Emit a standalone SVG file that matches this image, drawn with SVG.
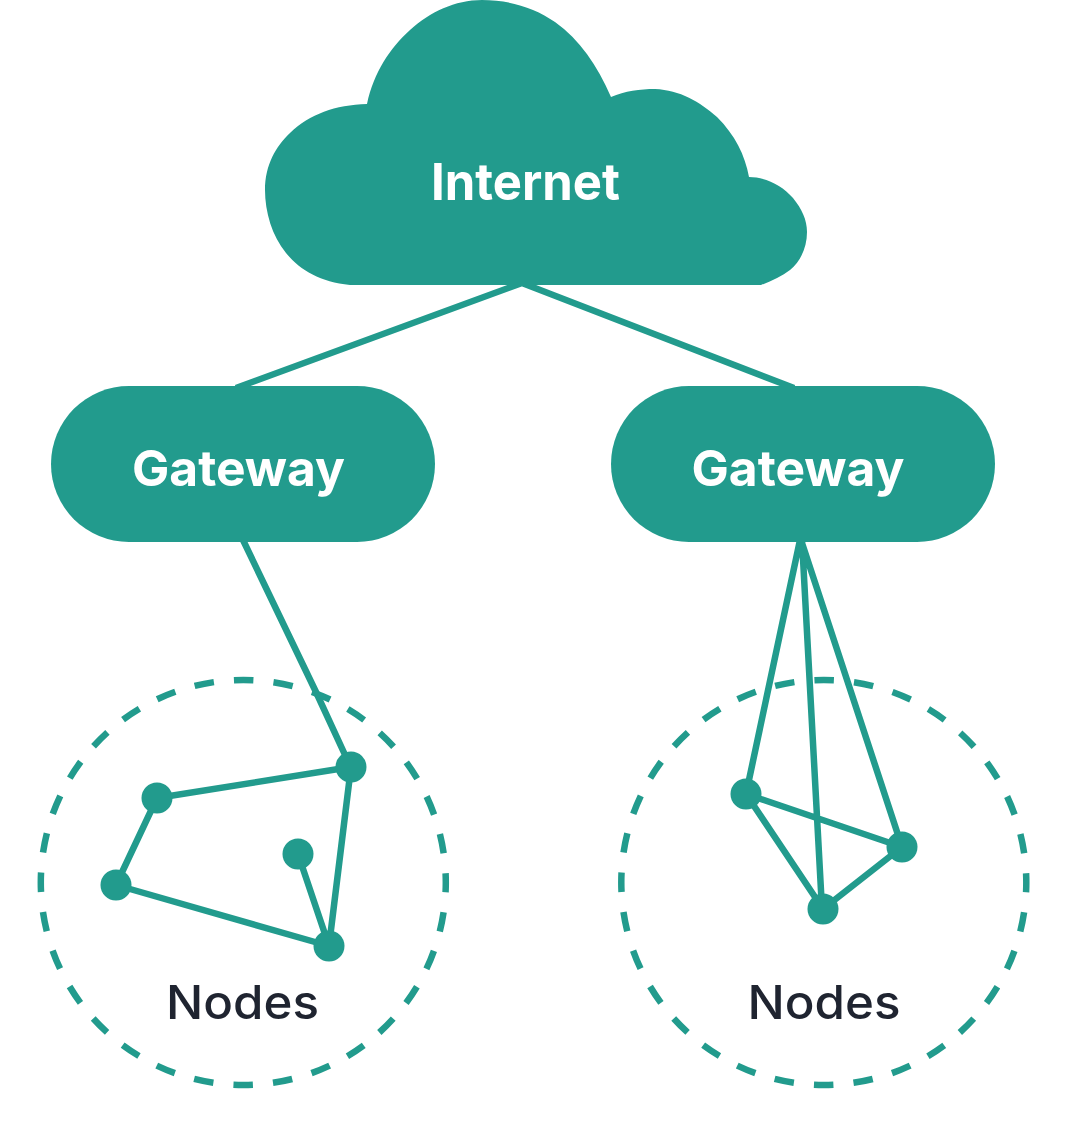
<svg xmlns="http://www.w3.org/2000/svg" width="1072" height="1124" viewBox="0 0 1072 1124">
<style>
.fill{fill:#229b8d}
.line{stroke:#229b8d;stroke-width:6.5;fill:none;stroke-linecap:butt;stroke-linejoin:round}
.dash{stroke:#229b8d;stroke-width:6.5;fill:none;stroke-dasharray:19.6 20.16;stroke-dashoffset:9.8}
.w{font-family:"Inter","Open Sans",sans-serif;font-weight:700;fill:#fff;text-anchor:middle}
.k{font-family:"Inter","Open Sans",sans-serif;font-weight:500;fill:#1f2430;text-anchor:middle;font-size:47px}
</style>
<rect width="1072" height="1124" fill="#fff"/>
<g id="connectors">
<path class="line" d="M522 283L236 388M522 283L794 388M243 540L316 692L346 757"/>
<path class="line" d="M351 767L157 798L116 885L329 946L351 767M329 946L298 854"/>
<path class="line" d="M800 540L746 794L902 847L823 909L746 794M802 540L822 909M801 540L902 847"/>
</g>
<g id="internet">
<path class="fill" d="M350 285C320 282 300 270 286 253C272 236 265 212 265 190C265 165 276 146 290 133C310 114 335 105 367 104C374 72 390 48 410 30C430 12 455 0 482 0C510 0 535 8 555 22C580 40 597 65 611 97C625 91 640 89 655 89C680 90 700 102 717 117C735 135 745 155 749 177C765 177 782 185 793 198C802 209 807 220 807 232C807 248 800 262 790 270C782 276 772 281 761 285Z"/>
<text class="w" x="525.5" y="200" font-size="51" textLength="189" lengthAdjust="spacingAndGlyphs">Internet</text>
</g>
<g id="gateway-left">
<rect class="fill" x="51" y="386" width="384" height="156" rx="78"/>
<text class="w" x="238.5" y="486" font-size="50" textLength="213" lengthAdjust="spacingAndGlyphs">Gateway</text>
</g>
<g id="gateway-right">
<rect class="fill" x="611" y="386" width="384" height="156" rx="78"/>
<text class="w" x="798" y="486" font-size="50" textLength="213" lengthAdjust="spacingAndGlyphs">Gateway</text>
</g>
<g id="nodes-left">
<circle class="dash" cx="243.3" cy="882.5" r="202.5"/>
<circle class="fill" cx="351" cy="767" r="15.5"/>
<circle class="fill" cx="157" cy="798" r="15.5"/>
<circle class="fill" cx="116" cy="885" r="15.5"/>
<circle class="fill" cx="298" cy="854" r="15.5"/>
<circle class="fill" cx="329" cy="946" r="15.5"/>
<text class="k" x="242.5" y="1019" textLength="153" lengthAdjust="spacingAndGlyphs">Nodes</text>
</g>
<g id="nodes-right">
<circle class="dash" cx="823.8" cy="882.5" r="202.5"/>
<circle class="fill" cx="746" cy="794" r="15.5"/>
<circle class="fill" cx="902" cy="847" r="15.5"/>
<circle class="fill" cx="823" cy="909" r="15.5"/>
<text class="k" x="824" y="1019" textLength="153" lengthAdjust="spacingAndGlyphs">Nodes</text>
</g>
</svg>
